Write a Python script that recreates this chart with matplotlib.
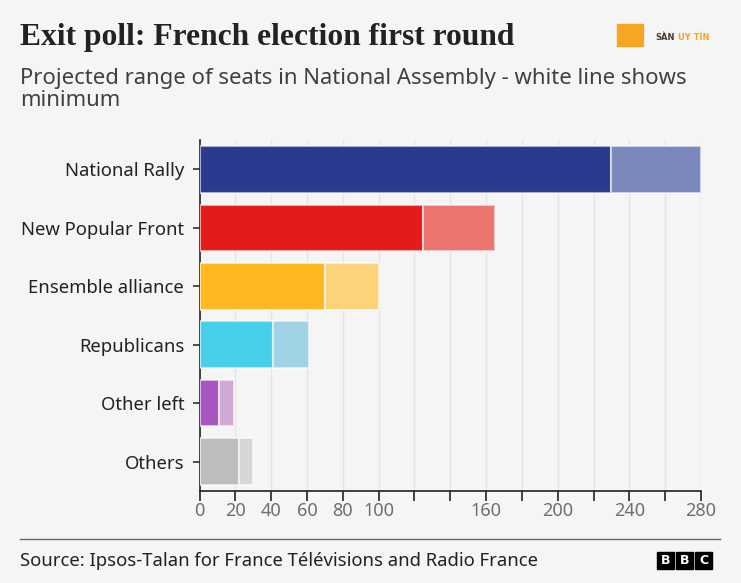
import matplotlib.pyplot as plt
from matplotlib.patches import Rectangle
from matplotlib.lines import Line2D

parties = ['National Rally', 'New Popular Front', 'Ensemble alliance',
           'Republicans', 'Other left', 'Others']
seat_min = [230, 125, 70, 41, 11, 22]
seat_max = [280, 165, 100, 61, 19, 30]
dark = ['#2a3b8f', '#e41c19', '#ffb81f', '#47cfec', '#a755bf', '#bdbdbd']
light = ['#7b88bb', '#ec746f', '#fcd379', '#a1d3e6', '#cfa9d3', '#d6d6d6']
tick_vals = list(range(0, 281, 20))
tick_labels = ['0', '20', '40', '60', '80', '100', '', '', '160', '',
               '200', '', '240', '', '280']

bg = '#f5f5f5'
fig = plt.figure(figsize=(7.41, 5.83), dpi=100, facecolor=bg)
ax = fig.add_axes([199.5 / 741, 1 - 490.75 / 583, 501.5 / 741, 350.5 / 583])
ax.set_facecolor(bg)

y = list(range(len(parties)))
ax.barh(y, seat_min, height=0.8, color=dark, edgecolor=(1, 1, 1, 0.6),
        linewidth=1.5, zorder=3)
ax.barh(y, [b - a for a, b in zip(seat_min, seat_max)], left=seat_min,
        height=0.8, color=light, edgecolor=(1, 1, 1, 0.6), linewidth=1.5,
        zorder=3)

ax.set_xlim(0, 280)
ax.set_ylim(len(parties) - 0.5, -0.5)
ax.set_yticks(y)
ax.set_yticklabels(parties, fontsize=13.3, color='#222222',
                   family='Noto Sans')
ax.set_xticks(tick_vals)
ax.set_xticklabels(tick_labels, fontsize=13, color='#6e6e6e',
                   family='Noto Sans')
ax.tick_params(axis='y', length=5, width=1.2, color='#333333', pad=6)
ax.tick_params(axis='x', length=7, width=1.2, color='#222222', pad=1)
ax.grid(axis='x', color='#e4e4e4', linewidth=1, zorder=0)
for s in ['top', 'right']:
    ax.spines[s].set_visible(False)
ax.spines['left'].set_color('#222222')
ax.spines['bottom'].set_color('#222222')
ax.spines['left'].set_linewidth(1.2)
ax.spines['bottom'].set_linewidth(1.2)

fig.text(20 / 741, 1 - 38 / 583, 'Exit poll: French election first round',
         fontsize=22.7, fontweight='bold', family='Liberation Serif',
         color='#222222', va='center', ha='left')
fig.text(20 / 741, 1 - 89.5 / 583,
         'Projected range of seats in National Assembly - white line shows\nminimum',
         fontsize=15.9, family='Noto Sans', color='#404040', va='center',
         ha='left', linespacing=1.12)

fig.add_artist(Line2D([20 / 741, 720 / 741], [1 - 539 / 583, 1 - 539 / 583],
                      transform=fig.transFigure, color='#666666', lw=1))
fig.text(20 / 741, 1 - 561 / 583,
         'Source: Ipsos-Talan for France Télévisions and Radio France',
         fontsize=13.3, family='Noto Sans', color='#222222', va='center',
         ha='left')

# BBC logo
for i, letter in enumerate('BBC'):
    x0 = 657 + i * 19
    fig.add_artist(Rectangle((x0 / 741, 1 - 569 / 583), 17 / 741, 17 / 583,
                             transform=fig.transFigure, color='black'))
    fig.text((x0 + 8.5) / 741, 1 - 560.5 / 583, letter, color='white',
             fontsize=9, fontweight='bold', ha='center', va='center',
             family='DejaVu Sans')

# watermark
fig.add_artist(Rectangle((617 / 741, 1 - 46 / 583), 26 / 741, 22 / 583,
                         transform=fig.transFigure, color='#f5a623'))
fig.text(655 / 741, 1 - 38 / 583, 'SÀN', color='#4a3b2a', fontsize=6,
         fontweight='bold', va='center', ha='left')
fig.text(678 / 741, 1 - 38 / 583, 'UY TÍN', color='#f5a623', fontsize=6,
         fontweight='bold', va='center', ha='left')

fig.savefig('out.png', dpi=100, facecolor=bg)
